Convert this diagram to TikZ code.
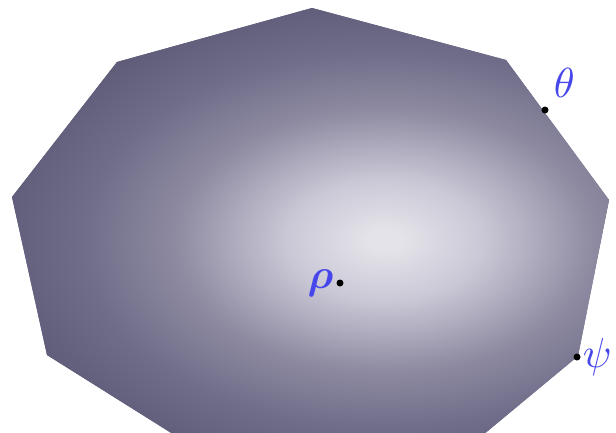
\documentclass[tikz,border=0pt]{standalone}
\usepackage{bm}
\definecolor{ballc0}{RGB}{228,227,233}
\definecolor{ballc1}{RGB}{202,200,214}
\definecolor{ballc2}{RGB}{140,137,160}
\definecolor{ballc3}{RGB}{112,109,138}
\definecolor{ballout}{RGB}{95,92,122}
\definecolor{lbl}{RGB}{70,70,235}
\pgfdeclareradialshading{ballsh}{\pgfpoint{0bp}{0bp}}{color(0bp)=(ballc0); color(1bp)=(ballc0); color(5.75bp)=(ballc1); color(12.5bp)=(ballc2); color(17.75bp)=(ballc3); color(23bp)=(ballout); color(50bp)=(ballout)}
\tikzset{
  pt/.style={circle, fill=black, inner sep=0pt, minimum size=7pt},
  lab/.style={text=lbl, scale=4.2, inner sep=0.5pt}
}
\begin{document}
\begin{tikzpicture}[x=1pt,y=-1pt]
\useasboundingbox (0,0) rectangle (616,432);
\begin{scope}
\clip (0,0) rectangle (616,432);
\clip (312,8) -- (506,60) -- (609,200) -- (578,356) -- (460,454) -- (200,451) -- (47,355) -- (12,197) -- (117,62) -- cycle;
\fill[ballout] (0,0) rectangle (616,460);
\shade[shading=ballsh] (385,240) ellipse (425 and 265);
\end{scope}
\node[pt] (rho) at (340,283) {};
\node[pt] (theta) at (545,110) {};
\node[pt] (psi) at (577,357) {};
\node[lab, anchor=east] (lrho) at (rho.west) {$\bm{\rho}$};
\node[lab, anchor=south west, inner sep=0pt] (ltheta) at (553,98) {$\theta$};
\node[lab, anchor=west, inner sep=0.3pt] (lpsi) at (psi.east) {$\psi$};
\end{tikzpicture}
\end{document}
